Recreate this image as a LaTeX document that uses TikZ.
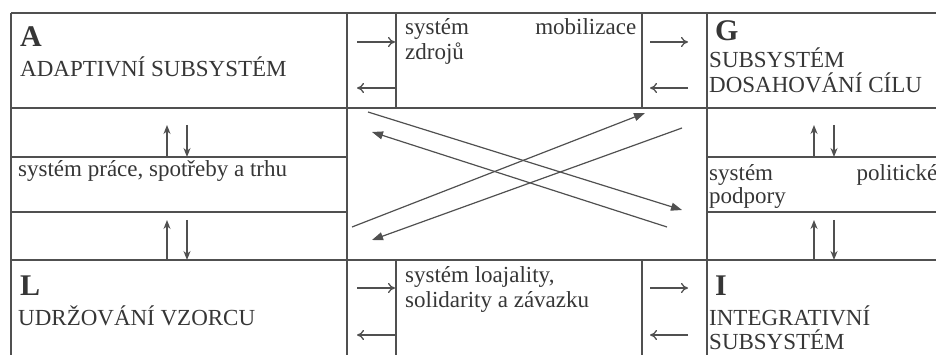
\documentclass[tikz,border=0pt]{standalone}
\usepackage{fontspec}
\setmainfont{Liberation Serif}
\usetikzlibrary{arrows.meta}

\definecolor{inkgray}{HTML}{363636}
\definecolor{rulegray}{HTML}{505050}

\tikzset{
  rule/.style={draw=rulegray, line width=1.2pt},
  celltext/.style={anchor=base west, inner sep=0pt, text=inkgray, align=left,
    font=\fontsize{23}{25}\selectfont},
  bigletter/.style={anchor=base west, inner sep=0pt, text=inkgray,
    font=\fontsize{30}{30}\selectfont\bfseries},
  flow/.style={draw=rulegray, line width=1.3pt, -{To[length=7pt,width=10pt]}},
  updown/.style={draw=rulegray, line width=1.3pt, -{Stealth[length=9pt,width=7pt]}},
  cross/.style={draw=rulegray, line width=1.2pt, -{Triangle[length=11pt,width=8pt]}}
}

\begin{document}
\begin{tikzpicture}[x=1pt, y=-1pt]
  \useasboundingbox (0,0) rectangle (936,355);
  \clip (0,0) rectangle (936,355);

  % table rules
  \draw[rule] (11,13) -- (940,13);
  \draw[rule] (11,108) -- (940,108);
  \draw[rule] (11,260) -- (940,260);
  \draw[rule] (11,157) -- (347,157) (707,157) -- (940,157);
  \draw[rule] (11,212) -- (347,212) (707,212) -- (940,212);
  \foreach \x in {11,347,707}
    \draw[rule] (\x,13) -- (\x,360);
  \foreach \x in {396,642}
    \draw[rule] (\x,13) -- (\x,108) (\x,260) -- (\x,360);

  % subsystems (multi-line nodes sit on their last line)
  \node[bigletter] (letA) at (20,47) {A};
  \node[celltext] (adapt) at (20,77) {ADAPTIVNÍ SUBSYSTÉM};
  \node[bigletter] (letG) at (715,41) {G};
  \node[celltext] (goal) at (709,93) {SUBSYSTÉM\\DOSAHOVÁNÍ CÍLU};
  \node[bigletter] (letL) at (20,295) {L};
  \node[celltext] (pattern) at (18,325) {UDRŽOVÁNÍ VZORCU};
  \node[bigletter] (letI) at (715,295) {I};
  \node[celltext, font=\fontsize{23}{24}\selectfont] (integ) at (709,349)
    {INTEGRATIVNÍ\\SUBSYSTÉM};

  % exchange systems
  \node[celltext] (mobil) at (405,60)
    {\hbox to 231pt{systém\hfill mobilizace}\\zdrojů};
  \node[celltext] (loyal) at (405,307) {systém loajality,\\solidarity a závazku};
  \node[celltext] (market) at (18,177) {systém práce, spotřeby a trhu};
  \node[celltext, font=\fontsize{23}{23}\selectfont] (polit) at (709,204)
    {\hbox to 228pt{systém\hfill politické}\\podpory};

  % horizontal exchange arrows
  \foreach \xa/\xb [count=\i] in {357/395, 650/688}
    \foreach \ya/\yb [count=\j] in {42/88, 288/335} {
      \coordinate (h\i\j a) at (\xa,\ya);
      \coordinate (h\i\j b) at (\xb,\ya);
      \coordinate (h\i\j c) at (\xb,\yb);
      \coordinate (h\i\j d) at (\xa,\yb);
      \draw[flow] (h\i\j a) -- (h\i\j b);
      \draw[flow] (h\i\j c) -- (h\i\j d);
    }

  % vertical exchange arrows
  \foreach \xu/\xd [count=\i] in {167/187, 814/834}
    \foreach \yb/\yt [count=\j] in {157/125, 260/220} {
      \coordinate (v\i\j a) at (\xu,\yb);
      \coordinate (v\i\j b) at (\xu,\yt);
      \coordinate (v\i\j c) at (\xd,\yt);
      \coordinate (v\i\j d) at (\xd,\yb);
      \draw[updown] (v\i\j a) -- (v\i\j b);
      \draw[updown] (v\i\j c) -- (v\i\j d);
    }

  % diagonal exchanges
  \coordinate (c1s) at (368,112);  \coordinate (c1e) at (682,210);
  \coordinate (c2s) at (667,227);  \coordinate (c2e) at (372,132);
  \coordinate (c3s) at (352,227);  \coordinate (c3e) at (645,113);
  \coordinate (c4s) at (682,128);  \coordinate (c4e) at (372,240);
  \foreach \k in {1,...,4}
    \draw[cross] (c\k s) -- (c\k e);
\end{tikzpicture}
\end{document}
